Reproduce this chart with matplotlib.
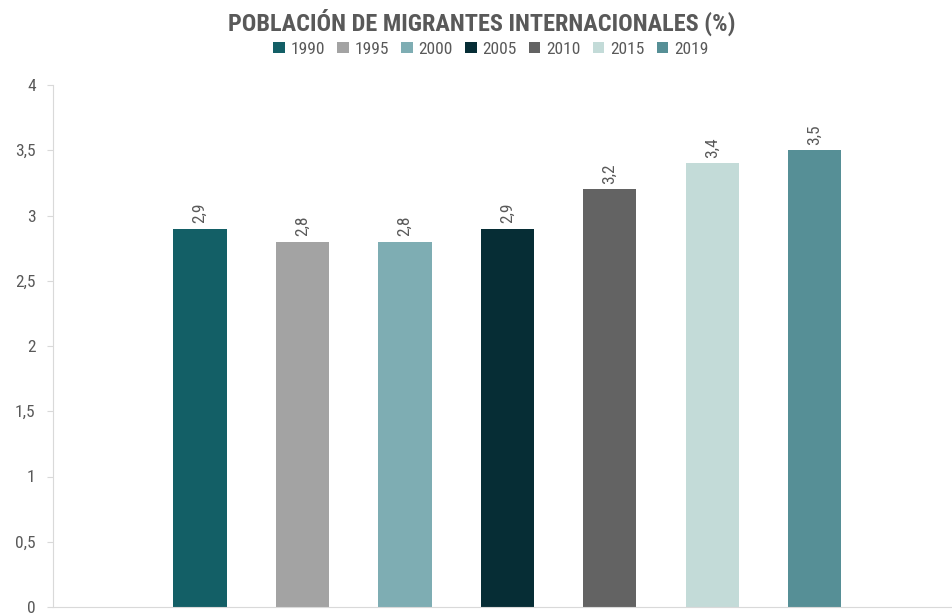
import matplotlib
matplotlib.use("Agg")
import matplotlib.pyplot as plt
from matplotlib import font_manager
from matplotlib.patches import Patch

years = ["1990", "1995", "2000", "2005", "2010", "2015", "2019"]
values = [2.9, 2.8, 2.8, 2.9, 3.2, 3.4, 3.5]
colors = ["#135f66", "#a3a3a3", "#7eadb3", "#062d35", "#636363", "#c3dbd8", "#568f96"]
yticks = [0, 0.5, 1, 1.5, 2, 2.5, 3, 3.5, 4]
ytick_labels = ["0", "0,5", "1", "1,5", "2", "2,5", "3", "3,5", "4"]

available = {f.name for f in font_manager.fontManager.ttflist}
family = [f for f in ["Liberation Sans Narrow", "Roboto Condensed", "Open Sans Condensed", "DejaVu Sans"]
          if f in available] or ["DejaVu Sans"]
plt.rcParams["font.family"] = family
plt.rcParams["font.stretch"] = "condensed"

text_color = "#595959"
W, H = 953, 614
fig = plt.figure(figsize=(W / 100, H / 100), dpi=100)
ax = fig.add_axes([53 / W, 1 - 607 / H, 1 - 53 / W, (607 - 85) / H])

x = list(range(len(years)))
bars = ax.bar(x, values, width=0.52, color=colors)
ax.set_xlim(-1.435, 7.35)
ax.set_ylim(0, 4)
ax.set_yticks(yticks)
ax.set_yticklabels(ytick_labels, color=text_color, fontsize=12.5)
ax.set_xticks([])

for spine in ["top", "right"]:
    ax.spines[spine].set_visible(False)
ax.spines["left"].set_color("#d9d9d9")
ax.spines["bottom"].set_color("#d9d9d9")
ax.tick_params(axis="y", length=4.5, color="#d9d9d9", pad=8)

for xi, v in zip(x, values):
    ax.annotate(f"{v:.1f}".replace(".", ","), (xi, v), xytext=(0, 4),
                textcoords="offset points", rotation=90, ha="center", va="bottom",
                color=text_color, fontsize=12.5)

fig.text(0.506, 1 - 22 / H, "POBLACIÓN DE MIGRANTES INTERNACIONALES (%)",
         ha="center", va="center", fontsize=17.5, fontweight="bold", color=text_color)

handles = [Patch(facecolor=c, label=y) for c, y in zip(colors, years)]
fig.legend(handles=handles, loc="center", bbox_to_anchor=(491 / W, 1 - 49 / H), ncol=7,
           frameon=False, fontsize=12.5, handlelength=0.65, handleheight=0.65,
           handletextpad=0.35, columnspacing=0.7, labelcolor=text_color)

fig.savefig("out.png", dpi=100, facecolor="white")
